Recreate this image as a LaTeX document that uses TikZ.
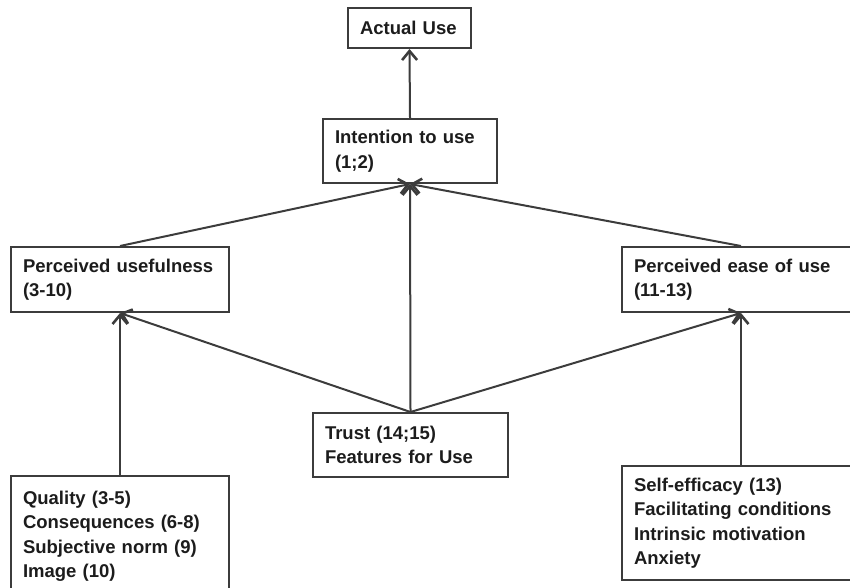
\documentclass[tikz,border=0pt]{standalone}
\usepackage{fontspec}
\setmainfont{Liberation Sans}
\usetikzlibrary{arrows.meta}
\definecolor{edge}{HTML}{3C3C3C}
\definecolor{ink}{HTML}{1C1C1C}

\begin{document}
\begin{tikzpicture}[
    x=1pt,y=-1pt,
    font=\bfseries\fontsize{18.5}{24.5}\selectfont,
    box/.style={draw=edge,line width=2pt,anchor=north west,align=left,
                inner xsep=12pt,inner ysep=0pt,text=ink},
    link/.style={-{Straight Barb[length=9pt,width=15pt,line width=2.6pt]},
                 draw=edge,line width=2pt}
  ]
  \clip (0,0) rectangle (850,587);

  % constructs
  \node[box,text width=99pt,minimum height=40pt]  (nUse)   at (347,7)   {Actual Use};
  \node[box,text width=150pt,minimum height=64pt] (nInt)   at (322,118) {Intention to use\\(1;2)};
  \node[box,text width=194pt,minimum height=65pt] (nPU)    at (10,246)  {Perceived usefulness\\(3-10)};
  \node[box,text width=214pt,minimum height=65pt] (nPEOU)  at (621,246) {Perceived ease of use\\(11-13)};
  \node[box,text width=171pt,minimum height=64pt] (nTrust) at (312,412) {Trust (14;15)\\Features for Use};

  % external variables
  \node[box,text width=194pt,minimum height=120pt] (nExt) at (10,475)
    {Quality (3-5)\\Consequences (6-8)\\Subjective norm (9)\\Image (10)};
  \node[box,text width=214pt,minimum height=114pt] (nSE)  at (621,465)
    {Self-efficacy (13)\\Facilitating conditions\\Intrinsic motivation\\Anxiety};

  % relations
  \draw[link] (nInt.north)   -- (nUse.south);
  \draw[link] (nPU.north)    -- (nInt.south);
  \draw[link] (nTrust.north) -- (nInt.south);
  \draw[link] (nPEOU.north)  -- (nInt.south);
  \draw[link] (nExt.north)   -- (nPU.south);
  \draw[link] (nTrust.north) -- (nPU.south);
  \draw[link] (nTrust.north) -- (nPEOU.south);
  \draw[link] (nSE.north)    -- (nPEOU.south);

\end{tikzpicture}
\end{document}
